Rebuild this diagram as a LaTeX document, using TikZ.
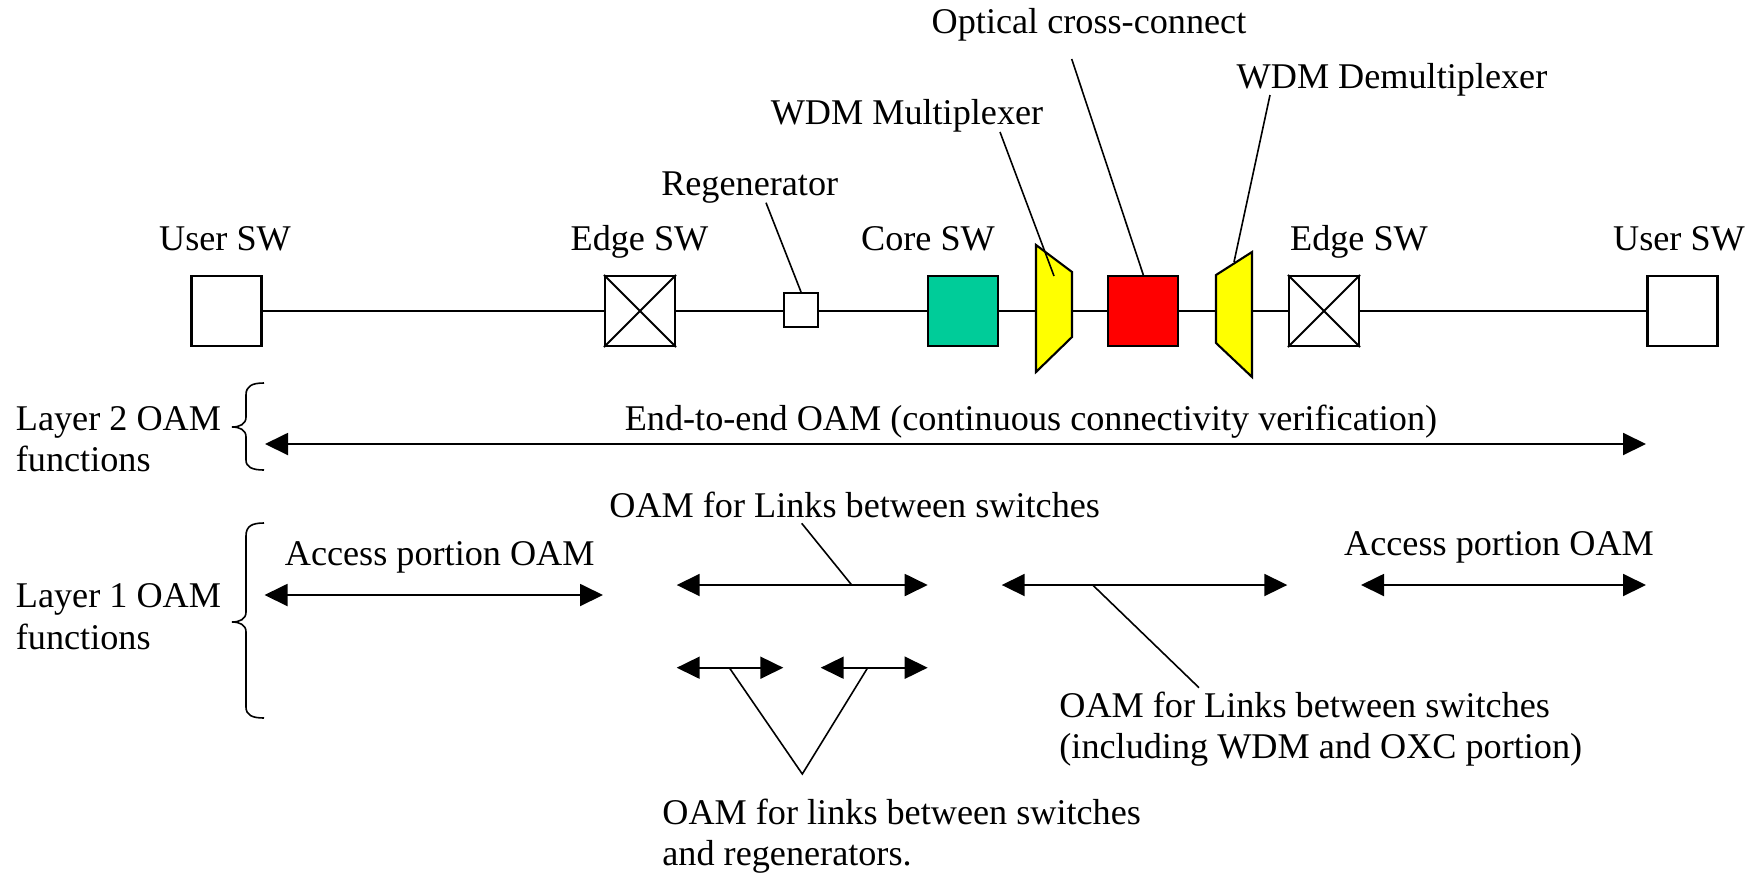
\documentclass[tikz,border=0pt]{standalone}
\usepackage{fontspec}
\setmainfont{Liberation Serif}
\usetikzlibrary{arrows.meta}
\definecolor{coreteal}{HTML}{00CC99}
\definecolor{wdmyellow}{HTML}{FFFF00}
\definecolor{oxcred}{HTML}{FF0000}
\begin{document}
\begin{tikzpicture}[x=0.5pt,y=-0.5pt,
  every node/.style={font=\fontsize{18.1}{21}\selectfont, inner sep=0pt},
  swbox/.style={draw, line width=1.05pt, minimum width=35pt, minimum height=35pt, fill=white},
  lbl/.style={anchor=base},
  lbll/.style={anchor=base west},
  link/.style={line width=0.95pt},
  leader/.style={line width=0.8pt},
  oam/.style={line width=0.95pt, {Triangle[length=11.5pt,width=11pt]}-{Triangle[length=11.5pt,width=11pt]}},
  brace/.style={line width=0.8pt},
  trap/.style={minimum width=18pt, minimum height=30pt}
]
\useasboundingbox (0,0) rectangle (1750,874);

% ---- network elements
\node[swbox] (usw1) at (226.5,311) {};
\node[swbox] (esw1) at (640,311) {};
\node[swbox, minimum width=17pt, minimum height=17pt] (regen) at (801,310) {};
\node[swbox, fill=coreteal] (core) at (963.3,311) {};
\node[trap] (mux) at (1054,311) {};
\node[swbox, fill=oxcred] (oxc) at (1143.3,311) {};
\node[trap] (demux) at (1234,311) {};
\node[swbox] (esw2) at (1324,311) {};
\node[swbox] (usw2) at (1682.5,311) {};

% trapezoids
\draw[line width=1.05pt, fill=wdmyellow]
  ([shift={(-18,-66)}]mux.center) -- ([shift={(18,-39)}]mux.center) --
  ([shift={(18,26)}]mux.center) -- ([shift={(-18,61)}]mux.center) -- cycle;
\draw[line width=1.05pt, fill=wdmyellow]
  ([shift={(-18,-36)}]demux.center) -- ([shift={(18,-59)}]demux.center) --
  ([shift={(18,66)}]demux.center) -- ([shift={(-18,32)}]demux.center) -- cycle;

% crosses
\draw[line width=0.95pt] (esw1.north west) -- (esw1.south east) (esw1.north east) -- (esw1.south west);
\draw[line width=0.95pt] (esw2.north west) -- (esw2.south east) (esw2.north east) -- (esw2.south west);

% links
\draw[link] (usw1) -- (esw1);
\draw[link] (esw1) -- (esw1 -| regen.west);
\draw[link] (esw1 -| regen.east) -- (core);
\draw[link] (core) -- (mux);
\draw[link] (mux) -- (oxc);
\draw[link] (oxc) -- (demux);
\draw[link] (demux) -- (esw2);
\draw[link] (esw2) -- (usw2);

% ---- top labels
\node[lbl] (tusw1) at (225,250) {User SW};
\node[lbl] (tesw1) at (639.5,250) {Edge SW};
\node[lbl] (tcore) at (928,250) {Core SW};
\node[lbl] (tesw2) at (1359,250) {Edge SW};
\node[lbl] (tusw2) at (1679,250) {User SW};
\node[lbl] (tregen) at (749.7,195) {Regenerator};
\node[lbl] (tmux) at (907,124) {WDM Multiplexer};
\node[lbl] (toxc) at (1089,33) {Optical cross-connect};
\node[lbl] (tdemux) at (1392,88) {WDM Demultiplexer};

\coordinate (eregen) at (766,202.7);
\coordinate (emux) at (1000,132);
\coordinate (eoxc) at (1071.7,59);
\coordinate (edemux) at (1270,95);
\draw[leader] (regen.north) -- (eregen);
\draw[leader] ([shift={(0,-35)}]mux.center) -- (emux);
\draw[leader] (oxc.north) -- (eoxc);
\draw[leader] ([shift={(0,-49)}]demux.center) -- (edemux);

% ---- Layer 2
\node[lbll] (l2a) at (15.5,430) {Layer 2 OAM};
\node[lbll] (l2b) at (15.5,471) {functions};
\draw[brace] (264,383) .. controls (252,383) and (246,386) .. (246,395) -- (246,417)
  .. controls (246,424) and (240,427) .. (232,427)
  .. controls (240,427) and (246,430) .. (246,437) -- (246,460)
  .. controls (246,467) and (252,470) .. (264,470);
\node[lbl] (te2e) at (1031,430) {End-to-end OAM (continuous connectivity verification)};
\coordinate (e2eL) at (265,444);
\coordinate (e2eR) at (1646,444);
\draw[oam] (e2eL) -- (e2eR);

% ---- Layer 1
\node[lbll] (l1a) at (15.5,607.5) {Layer 1 OAM};
\node[lbll] (l1b) at (15.5,649) {functions};
\draw[brace] (264,523) .. controls (252,523) and (246,526) .. (246,536) -- (246,612)
  .. controls (246,619) and (240,622) .. (232,622)
  .. controls (240,622) and (246,625) .. (246,632) -- (246,707)
  .. controls (246,715) and (252,718) .. (264,718);

\node[lbl] (tacc1) at (439.7,565) {Access portion OAM};
\coordinate (acc1L) at (264.5,595);
\coordinate (acc1R) at (603,595);
\draw[oam] (acc1L) -- (acc1R);

\node[lbl] (tacc2) at (1499,555) {Access portion OAM};
\coordinate (acc2L) at (1361,585);
\coordinate (acc2R) at (1646,585);
\draw[oam] (acc2L) -- (acc2R);

\node[lbll] (tlink1) at (609,517) {OAM for Links between switches};
\coordinate (lk1L) at (676.7,585);
\coordinate (lk1R) at (927.7,585);
\draw[oam] (lk1L) -- (lk1R);
\coordinate (lk1m) at (851.7,585);
\coordinate (lk1t) at (801.7,523.3);
\draw[leader] (lk1m) -- (lk1t);

\coordinate (lk2L) at (1001.7,585);
\coordinate (lk2R) at (1287.3,585);
\draw[oam] (lk2L) -- (lk2R);
\coordinate (lk2m) at (1092.7,585);
\coordinate (lk2b) at (1199,687.7);
\draw[leader] (lk2m) -- (lk2b);
\node[lbll] (tlink2a) at (1059,717) {OAM for Links between switches};
\node[lbll] (tlink2b) at (1059,758) {(including WDM and OXC portion)};

\coordinate (saL) at (676.7,667.7);
\coordinate (saR) at (783.3,667.7);
\coordinate (sbL) at (820.7,667.7);
\coordinate (sbR) at (927.7,667.7);
\draw[oam] (saL) -- (saR);
\draw[oam] (sbL) -- (sbR);
\coordinate (sam) at (729.3,667.7);
\coordinate (sbm) at (867.7,667.7);
\coordinate (vtip) at (802.3,774);
\draw[leader] (sam) -- (vtip) -- (sbm);
\node[lbll] (treg1) at (662,824) {OAM for links between switches};
\node[lbll] (treg2) at (662,865) {and regenerators.};
\end{tikzpicture}
\end{document}
